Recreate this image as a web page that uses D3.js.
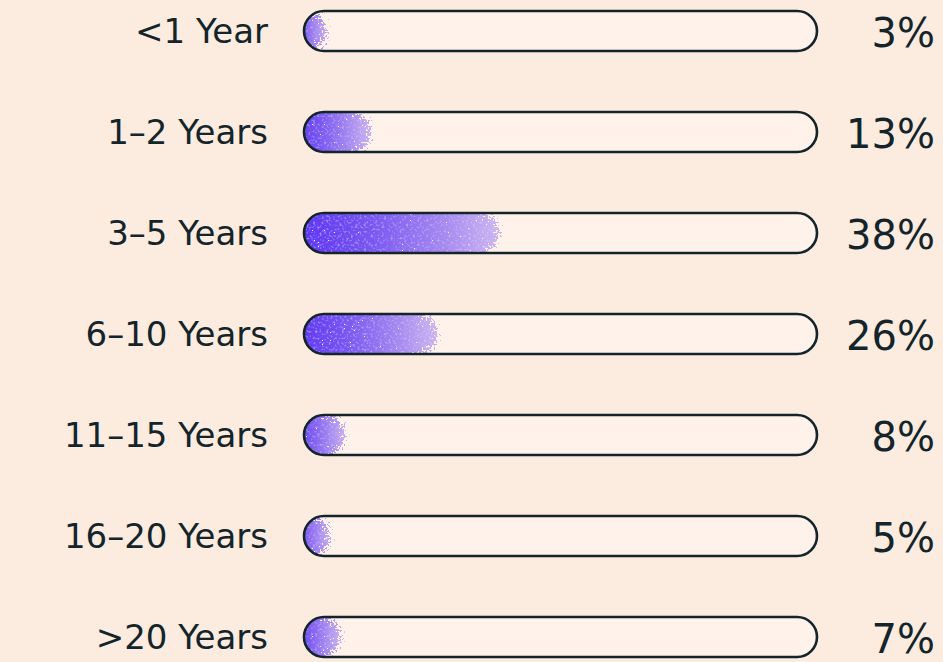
<!DOCTYPE html>
<html><head><meta charset="utf-8">
<script src="https://cdn.jsdelivr.net/npm/d3@7"></script>
<style>
html,body{margin:0;padding:0;background:#fcebdf;}
svg{display:block;}
</style></head>
<body>
<script>
const categories = ["<1 Year","1–2 Years","3–5 Years","6–10 Years","11–15 Years","16–20 Years",">20 Years"];
const values = [3,13,38,26,8,5,7];
const valueLabels = ["3%","13%","38%","26%","8%","5%","7%"];

const W = 943, H = 662;
const svg = d3.select("body").append("svg").attr("width", W).attr("height", H);
svg.append("rect").attr("width", W).attr("height", H).attr("fill", "#fcebdf");

const y = d3.scalePoint().domain(categories).range([31, 637]);
const x = d3.scaleLinear().domain([0, 100]).range([304, 817]);
const barH = 40;
const ink = "#13242a";
const font = "'DejaVu Sans', Inter, sans-serif";

const defs = svg.append("defs");
const grad = defs.append("linearGradient").attr("id", "pg").attr("gradientUnits", "objectBoundingBox")
  .attr("x1", "0").attr("x2", "1").attr("y1", "0").attr("y2", "0");
[["0", "#5a2cf4"], ["0.4", "#7a56f2"], ["0.75", "#a78af0"], ["1", "#cdb6f2"]].forEach(([o, c]) =>
  grad.append("stop").attr("offset", o).attr("stop-color", c));

const f = defs.append("filter").attr("id", "grain").attr("filterUnits", "userSpaceOnUse")
  .attr("x", 0).attr("y", 0).attr("width", W).attr("height", H);
f.append("feTurbulence").attr("type", "fractalNoise").attr("baseFrequency", "0.5").attr("numOctaves", 1).attr("seed", 7).attr("result", "noise");
f.append("feColorMatrix").attr("in", "noise").attr("type", "matrix")
  .attr("values", "0 0 0 0 0  0 0 0 0 0  0 0 0 0 0  1 0 0 0 0").attr("result", "na");
f.append("feGaussianBlur").attr("in", "SourceAlpha").attr("stdDeviation", 5).attr("result", "ba");
f.append("feComposite").attr("in", "ba").attr("in2", "na").attr("operator", "arithmetic")
  .attr("k1", 0).attr("k2", 1).attr("k3", 2).attr("k4", -1).attr("result", "sum");
f.append("feComponentTransfer").attr("in", "sum").attr("result", "th")
  .append("feFuncA").attr("type", "discrete").attr("tableValues", "0 1");
// hard mask to kill stray specks far from the shape
f.append("feComponentTransfer").attr("in", "ba").attr("result", "near")
  .append("feFuncA").attr("type", "linear").attr("slope", 20).attr("intercept", -1.5);
f.append("feComposite").attr("in", "th").attr("in2", "near").attr("operator", "in").attr("result", "mask");
f.append("feGaussianBlur").attr("in", "SourceGraphic").attr("stdDeviation", 5).attr("result", "bc");
f.append("feColorMatrix").attr("in", "bc").attr("type", "matrix")
  .attr("values", "1 0 0 0 0  0 1 0 0 0  0 0 1 0 0  0 0 0 0 1").attr("result", "opaque");
f.append("feTurbulence").attr("type", "fractalNoise").attr("baseFrequency", "0.45").attr("numOctaves", 1).attr("seed", 21).attr("result", "n2");
f.append("feColorMatrix").attr("in", "n2").attr("type", "matrix")
  .attr("values", "0 0 0 0 1  0 0 0 0 1  0 0 0 0 1  3 0 0 0 -1.55").attr("result", "spk");
f.append("feComponentTransfer").attr("in", "spk").attr("result", "spk2")
  .append("feFuncA").attr("type", "linear").attr("slope", 0.3).attr("intercept", 0);
f.append("feComposite").attr("in", "spk2").attr("in2", "opaque").attr("operator", "over").attr("result", "col");
f.append("feComposite").attr("in", "col").attr("in2", "mask").attr("operator", "in");

const rows = svg.selectAll("g.row").data(categories).join("g").attr("class", "row");

rows.each(function(c, i) {
  const g = d3.select(this);
  const cy = y(c);
  const r = barH / 2;
  const x0 = x(0), xv = x(values[i]);
  const clipId = "clip" + i;
  defs.append("clipPath").attr("id", clipId).append("rect")
    .attr("x", x0).attr("y", cy - r).attr("width", x(100) - x0).attr("height", barH)
    .attr("rx", r).attr("ry", r);
  g.append("rect").attr("x", x0).attr("y", cy - r).attr("width", x(100) - x0).attr("height", barH)
    .attr("rx", r).attr("fill", "#fef2ea");
  const ext = 16;
  const fg = g.append("g").attr("clip-path", `url(#${clipId})`)
    .append("g").attr("filter", "url(#grain)");
  const bodyEnd = Math.max(x0, xv - r);
  const p = d3.path();
  p.moveTo(x0 - ext, cy - r - ext);
  p.lineTo(bodyEnd, cy - r - ext);
  p.lineTo(bodyEnd, cy - r);
  p.arc(Math.max(x0 + 2, xv - r), cy, r, -Math.PI / 2, Math.PI / 2);
  p.lineTo(bodyEnd, cy + r + ext);
  p.lineTo(x0 - ext, cy + r + ext);
  p.closePath();
  fg.append("g").append("path").attr("d", p.toString()).attr("fill", "url(#pg)");
  g.append("rect").attr("x", x0).attr("y", cy - r).attr("width", x(100) - x0).attr("height", barH)
    .attr("rx", r).attr("fill", "none").attr("stroke", ink).attr("stroke-width", 2.6);
  g.append("text").attr("x", 268).attr("y", cy).attr("dy", "0.36em").attr("text-anchor", "end")
    .attr("font-family", font).attr("font-size", 34).attr("fill", ink)
    .text(c);
  g.append("text").attr("x", 935).attr("y", cy + 2).attr("dy", "0.36em").attr("text-anchor", "end")
    .attr("font-family", font).attr("font-size", 40).attr("fill", ink)
    .text(valueLabels[i]);
});
</script>
</body></html>
